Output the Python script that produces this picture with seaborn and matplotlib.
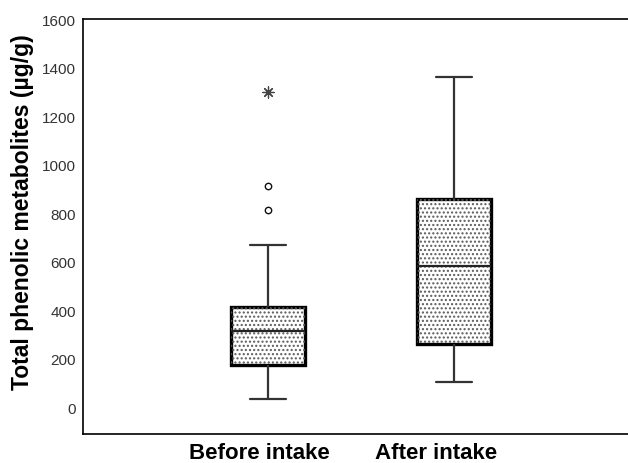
import matplotlib
matplotlib.use("Agg")
import matplotlib.pyplot as plt
import matplotlib.transforms as mtransforms
from matplotlib.patches import PathPatch
import numpy as np
import pandas as pd
import seaborn as sns

# ---- data ----
groups = ["Before intake", "After intake"]
whisker_low = [33, 102]
q1 = [172, 262]
median = [312, 582]
q3 = [411, 858]
whisker_high = [669, 1362]
outlier_group = ["Before intake", "Before intake"]
outlier_values = [814, 910]          # open circles
extreme_group = ["Before intake"]
extreme_values = [1298]              # asterisk
y_ticks = [0, 200, 400, 600, 800, 1000, 1200, 1400, 1600]
y_label = "Total phenolic metabolites (µg/g)"

# five-number summaries as long table
rows = []
for g, a, b, c, d, e in zip(groups, whisker_low, q1, median, q3, whisker_high):
    for v in (a, b, c, d, e):
        rows.append({"group": g, "value": v})
df = pd.DataFrame(rows)
df_out = pd.DataFrame({"group": outlier_group, "value": outlier_values})
df_ext = pd.DataFrame({"group": extreme_group, "value": extreme_values})

sns.set_theme(style="white")
plt.rcParams["font.family"] = ["Liberation Sans", "DejaVu Sans"]
plt.rcParams["hatch.linewidth"] = 1.0

fig = plt.figure(figsize=(6.28, 4.64), dpi=100)
ax = fig.add_axes([83 / 628, 1 - 435 / 464, 1 - 83 / 628, (435 - 20) / 464])

sns.boxplot(data=df, x="group", y="value", order=groups, ax=ax,
            whis=(0, 100), showfliers=False, width=0.395,
            color="white", linecolor="#111111", linewidth=1.5,
            boxprops=dict(linewidth=2.4, edgecolor="black", facecolor="white"),
            whiskerprops=dict(linewidth=1.6, color="#333333"),
            capprops=dict(linewidth=1.6, color="#333333"),
            medianprops=dict(linewidth=1.6, color="#222222"))

# dotted stipple fill
for p in list(ax.patches):
    hp = PathPatch(p.get_path(), transform=p.get_transform(), facecolor="none",
                   edgecolor="#5a5a5a", hatch="....", lw=0, zorder=p.get_zorder() + 0.01)
    ax.add_patch(hp)

sns.stripplot(data=df_out, x="group", y="value", order=groups, ax=ax,
              jitter=False, marker="o", color="white", edgecolor="#111111",
              linewidth=1.0, size=4.6, zorder=5)
sns.stripplot(data=df_ext, x="group", y="value", order=groups, ax=ax,
              jitter=False, marker=(8, 2, 0), color="#444444",
              linewidth=0.9, size=8, zorder=5)

ax.set_xlim(-0.995, 1.935)
ax.set_ylim(-111, 1600)
ax.set_yticks(y_ticks)
ax.set_yticklabels([str(t) for t in y_ticks], fontsize=11, color="#333333")
ax.tick_params(axis="both", length=0)
ax.tick_params(axis="y", pad=5)
ax.tick_params(axis="x", pad=6)
for lab in ax.get_xticklabels():
    lab.set_fontsize(16)
    lab.set_fontweight("bold")
    lab.set_color("black")
offsets = [-9, -18]
for lab, dx in zip(ax.get_xticklabels(), offsets):
    lab.set_transform(lab.get_transform() + mtransforms.ScaledTranslation(dx / 100, 0, fig.dpi_scale_trans))
ax.set_xlabel("")
ax.set_ylabel(y_label, fontsize=16.5, fontweight="bold", color="black")
ax.yaxis.set_label_coords(-(83 - 34) / (628 - 83), 0.5 + 15 / 415)

for side in ["left", "top", "bottom"]:
    ax.spines[side].set_visible(True)
    ax.spines[side].set_color("black")
    ax.spines[side].set_linewidth(1.2)
ax.spines["right"].set_visible(False)
ax.set_facecolor("white")
fig.patch.set_facecolor("white")

fig.savefig("out.png", dpi=100)
